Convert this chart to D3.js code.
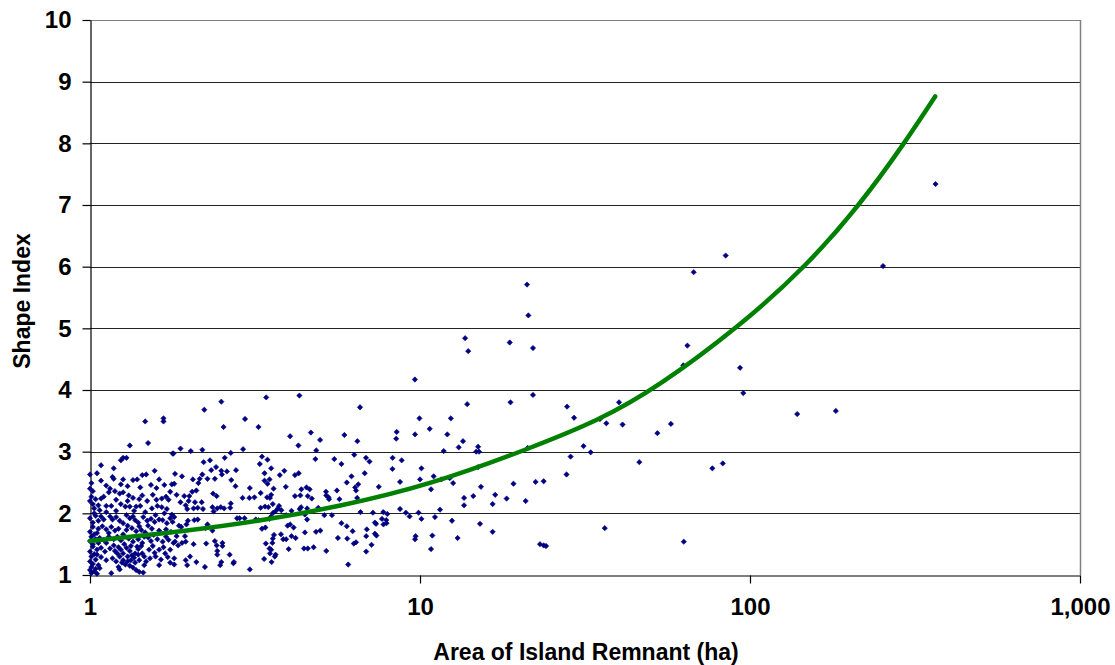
<!DOCTYPE html>
<html>
<head>
<meta charset="utf-8">
<script src="https://cdn.jsdelivr.net/npm/d3@7"></script>
<style>
  html, body { margin: 0; padding: 0; background: #fff; }
  svg { display: block; }
  .tick text { font-family: "Liberation Sans", Arial, sans-serif; font-weight: bold; font-size: 24px; fill: #000; }
  .title { font-family: "Liberation Sans", Arial, sans-serif; font-weight: bold; font-size: 23px; fill: #000; }
</style>
</head>
<body>
<svg id="chart" width="1115" height="665"></svg>
<script>
// Island remnants: [area (ha), shape index]
const islands = [
  [84.4,6.18],[67.5,5.91],[64.6,4.72],[62.8,4.40],[93.3,4.36],[95.4,3.95],[40.1,3.80],[35.1,3.53],[36.7,3.46],[41.1,3.44],
  [57.6,3.45],[52.4,3.30],[31.3,3.09],[32.9,2.99],[46.2,2.83],[76.9,2.73],[82.7,2.81],[139,3.61],[36.3,1.76],[63.0,1.54],
  [365,7.34],[253,6.01],[182,3.66],
  [21.1,5.71],[21.3,5.21],[13.7,4.84],[14.0,4.63],[18.7,4.77],[22.0,4.68],[9.65,4.17],[13.9,3.77],[18.8,3.80],[22.0,3.92],
  [27.9,3.73],[29.3,3.55],[9.96,3.54],[9.66,3.28],[10.7,3.37],[12.4,3.54],[12.1,3.28],[13.5,3.17],[13.1,3.07],[11.8,3.01],
  [15.0,3.08],[14.8,3.00],[15.1,3.00],[21.2,3.06],[28.6,2.92],[8.8,2.86],[10.1,2.73],[10.0,2.55],[8.7,2.51],[11.0,2.60],
  [11.6,2.55],[12.3,2.57],[12.6,2.49],[10.8,2.39],[15.0,2.75],[15.3,2.43],[19.2,2.48],[22.4,2.51],[23.7,2.52],[27.8,2.63],
  [13.6,2.25],[13.6,2.13],[14.5,2.28],[16.9,2.30],[16.6,2.15],[18.3,2.24],[20.9,2.20],[8.7,2.07],[9.06,2.01],[9.3,1.95],
  [9.9,2.01],[10.1,1.91],[11.1,1.94],[11.5,2.06],[12.5,1.88],[15.2,1.83],[16.6,1.70],[10.9,1.64],[9.7,1.63],[9.66,1.58],
  [13.0,1.60],[10.8,1.42],[23.1,1.50],[23.7,1.48],[24.1,1.47],
  [6.58,3.72],[5.9,3.27],[6.46,3.17],[8.5,3.32],[8.47,3.21],[6.32,2.95],[6.86,2.90],[7.03,2.84],[8.26,2.90],[8.25,2.72],
  [6.2,2.60],[6.8,2.65],[6.0,2.50],[6.5,2.47],[6.36,2.42],[6.4,2.37],[7.5,2.43],[6.45,2.25],[6.6,2.02],[7.2,2.01],
  [7.74,2.02],[7.96,1.99],[7.67,1.91],[7.9,1.89],[7.75,1.82],[7.92,1.84],[7.3,1.85],[7.36,1.83],[6.0,1.79],[6.25,1.71],
  [6.9,1.74],[7.3,1.67],[7.38,1.64],[6.02,1.59],[6.87,1.63],[6.4,1.53],[6.3,1.51],[7.13,1.49],[6.87,1.38],[6.06,1.17],
  [3.42,3.88],[4.31,3.91],[3.24,3.40],[4.04,3.25],[4.67,3.31],[4.98,3.19],[4.28,3.10],[4.85,3.02],[3.32,2.92],[3.45,2.87],
  [4.82,2.88],[5.5,2.88],[5.78,2.80],[3.27,2.80],[3.54,2.73],[3.38,2.65],[3.88,2.69],[3.76,2.62],[4.29,2.65],[4.18,2.62],
  [3.38,2.53],[3.5,2.55],[3.45,2.48],[3.92,2.43],[4.53,2.42],[4.63,2.39],[4.37,2.39],[3.6,2.40],[3.29,2.33],[3.54,2.30],
  [3.51,2.25],[3.44,2.26],[4.18,2.28],[4.34,2.29],[4.57,2.28],[4.7,2.24],[5.19,2.35],[5.2,2.29],[5.3,2.23],[5.28,2.26],
  [5.7,2.23],[5.6,2.37],[3.39,2.11],[3.58,2.15],[3.47,2.10],[3.29,2.09],[3.74,2.12],[3.71,2.08],[3.8,2.05],[3.66,2.04],
  [4.08,2.04],[4.36,2.10],[4.32,2.07],[4.55,2.08],[4.92,2.09],[3.59,2.01],[3.54,1.95],[3.5,1.91],[3.93,1.97],[5.13,1.97],
  [5.41,1.97],[4.48,1.98],[4.55,1.90],[4.04,1.82],[4.14,1.77],[3.97,1.80],[3.4,1.77],[3.32,1.75],[5.78,1.84],
  [4.84,1.70],[4.99,1.72],[3.79,1.66],[3.85,1.58],[3.93,1.58],[4.08,1.63],[4.2,1.60],[4.48,1.69],[5.64,1.60],[3.61,1.65],
  [3.58,1.59],[3.57,1.52],[3.41,1.51],[3.5,1.43],[3.54,1.41],[3.51,1.35],[3.65,1.33],[3.63,1.30],[4.0,1.42],[4.45,1.43],
  [4.57,1.43],[4.76,1.45],[5.2,1.39],[3.37,1.26],[3.55,1.21],
  [2.5,3.81],[2.22,3.68],[2.95,3.53],[2.54,3.40],[1.88,3.05],[2.02,3.01],[2.19,3.03],[1.78,2.97],[2.67,2.98],[2.91,3.04],
  [2.21,2.83],[2.31,2.86],[2.56,2.90],[2.41,2.75],[2.33,2.70],[2.5,2.69],[2.6,2.68],[2.77,2.70],[1.81,2.64],[1.9,2.60],
  [2.19,2.63],[2.27,2.56],[2.15,2.56],[2.39,2.56],[2.51,2.63],[2.68,2.54],[2.05,2.55],[2.13,2.49],[1.77,2.47],[3.05,2.41],
  [2.76,2.44],[2.36,2.32],[2.42,2.28],[1.83,2.30],[1.93,2.28],[2.0,2.28],[2.1,2.37],[2.04,2.35],[2.9,2.25],[3.04,2.25],
  [3.15,2.26],[1.88,2.18],[1.99,2.20],[1.95,2.13],[1.97,2.07],[2.06,2.08],[2.08,2.18],[2.12,2.09],[2.18,2.18],[2.2,2.07],
  [2.35,2.10],[2.37,2.03],[2.43,2.08],[2.49,2.10],[2.55,2.08],[2.66,2.09],[2.67,2.16],[2.79,1.92],[2.84,1.92],[2.94,1.92],
  [3.18,1.90],[3.24,1.89],[1.77,1.98],[1.8,1.94],[1.86,1.80],[1.89,1.78],[1.96,1.82],[1.98,1.88],[2.07,1.89],[2.12,1.90],
  [2.27,1.82],[2.24,1.76],[2.35,1.72],[1.83,1.63],[1.81,1.54],[1.85,1.48],[1.9,1.52],[1.94,1.63],[1.95,1.54],[2.06,1.50],
  [2.25,1.51],[2.39,1.55],[2.42,1.48],[2.52,1.52],[2.52,1.47],[2.43,1.39],[2.43,1.33],[2.65,1.33],[2.73,1.21],[2.72,1.19],
  [2.5,1.21],[2.48,1.16],[2.01,1.30],[2.1,1.21],[1.95,1.24],[1.97,1.16],[1.8,1.27],[1.8,1.17],[2.23,1.13],[3.05,1.09],
  [1.47,3.49],[1.67,3.54],[1.67,3.49],[1.5,3.14],[1.32,3.10],[1.79,2.97],[1.08,2.78],[1.24,2.86],[1.26,2.90],[1.29,2.90],
  [1.18,2.73],[1.48,2.63],[1.57,2.69],[1.0,2.63],[1.01,2.49],[1.08,2.53],[1.17,2.59],[1.18,2.56],[1.26,2.55],[1.35,2.54],
  [1.39,2.55],[1.3,2.44],[1.42,2.42],[1.53,2.46],[1.59,2.41],[1.68,2.46],[1.8,2.48],
  [1.01,2.27],[1.04,2.23],[1.08,2.24],[1.10,2.27],[1.14,2.34],[1.19,2.36],[1.23,2.32],[1.26,2.34],[1.31,2.29],[1.35,2.25],
  [1.41,2.23],[1.44,2.29],[1.49,2.20],[1.59,2.22],[1.65,2.24],[1.7,2.27],[1.73,2.22],
  [1.02,2.15],[1.06,2.13],[1.12,2.12],[1.16,2.12],[1.24,2.15],[1.28,2.11],[1.32,2.11],[1.38,2.11],[1.42,2.12],[1.54,2.08],
  [1.6,2.12],[1.65,2.10],[1.71,2.07],
  [1.03,2.00],[1.04,1.96],[1.08,1.95],[1.1,1.90],[1.15,1.95],[1.17,1.90],[1.2,1.94],[1.23,1.88],[1.26,1.84],[1.29,1.97],
  [1.32,1.92],[1.35,1.95],[1.37,1.89],[1.40,1.85],[1.45,1.94],[1.49,1.88],[1.53,1.91],[1.57,1.86],[1.62,1.90],[1.66,1.89],
  [1.71,1.84],[1.78,1.86],
  [1.02,1.78],[1.06,1.75],[1.09,1.79],[1.12,1.74],[1.16,1.78],[1.19,1.72],[1.22,1.75],[1.29,1.73],[1.34,1.76],[1.38,1.71],
  [1.43,1.73],[1.47,1.69],[1.54,1.75],[1.62,1.72],[1.70,1.74],[1.76,1.70],
  [1.01,1.62],[1.04,1.58],[1.07,1.60],[1.10,1.57],[1.14,1.62],[1.18,1.58],[1.21,1.62],[1.24,1.56],[1.31,1.59],[1.35,1.54],
  [1.4,1.58],[1.44,1.52],[1.5,1.61],[1.53,1.55],[1.6,1.58],[1.66,1.54],[1.73,1.57],[1.79,1.52],
  [1.02,1.46],[1.05,1.41],[1.08,1.44],[1.11,1.38],[1.15,1.43],[1.19,1.39],[1.21,1.35],[1.24,1.41],[1.26,1.35],[1.32,1.39],
  [1.37,1.35],[1.4,1.42],[1.44,1.35],[1.51,1.41],[1.57,1.36],[1.62,1.41],[1.69,1.35],[1.75,1.41],
  [1.01,1.30],[1.04,1.25],[1.08,1.29],[1.12,1.24],[1.17,1.27],[1.2,1.22],[1.23,1.30],[1.26,1.24],[1.3,1.22],[1.33,1.24],
  [1.37,1.20],[1.41,1.24],[1.46,1.16],[1.38,1.08],[1.41,1.05],[1.62,1.16],[1.45,1.04],
  [1.01,1.13],[1.03,1.06],[1.01,1.03],[1.07,1.11],[1.16,1.03],[1.23,1.09],
  [1.00,2.40],[1.02,2.36],[1.00,2.20],[1.03,2.08],[1.00,1.92],[1.02,1.85],[1.00,1.70],[1.03,1.66],[1.00,1.55],[1.02,1.50],
  [1.00,1.38],[1.03,1.34],[1.00,1.22],[1.02,1.18],[1.04,1.10],[1.05,1.02],[1.00,1.08],[1.06,1.16],[1.05,1.33],[1.06,1.52],
  [1.05,1.68],[1.06,1.88],[1.07,2.05],
  [1.18,1.48],[1.22,1.45],[1.27,1.50],[1.29,1.44],[1.33,1.47],[1.30,1.30],[1.34,1.32],[1.28,1.17],[1.32,1.15],[1.35,1.12],
  [1.25,1.20],[1.22,1.13],[1.36,1.28],[1.40,1.33],[1.39,1.46],[1.43,1.47],[1.46,1.30],[1.48,1.22],[1.52,1.27],[1.55,1.47],
  [1.58,1.30],[1.64,1.25],[1.67,1.45],[1.72,1.29],[1.75,1.20],[1.70,1.62],[1.56,1.65],[1.46,1.62],[1.12,1.52],[1.14,1.68],
  [1.26,1.66],[1.30,1.80],[1.41,1.79],[1.50,1.80],[1.58,1.97],[1.68,2.00],[1.75,1.92],[1.47,2.02],[1.36,2.04],[1.20,2.04],
  [1.12,2.02],[1.30,2.20],[1.20,2.22],[1.55,2.30],[1.75,2.35],[1.62,2.55],[1.44,2.62],[1.12,2.45],[1.24,2.47],[1.05,2.65],
  [1.15,2.40]
];

// Fitted trend line, sampled along its length: area (ha) and shape index
const trendArea  = [1, 2, 3.3, 5.7, 10.7, 21, 35, 52, 93, 149, 215, 292, 364];
const trendShape = [1.55, 1.72, 1.88, 2.11, 2.46, 3.03, 3.51, 4.03, 5.03, 6.02, 7.0, 7.98, 8.76];

const xTickValues = [1, 10, 100, 1000];
const xTickLabels = ["1", "10", "100", "1,000"];
const yTickValues = [1, 2, 3, 4, 5, 6, 7, 8, 9, 10];

const xTitle = "Area of Island Remnant (ha)";
const yTitle = "Shape Index";

const svg = d3.select("#chart");
const plotLeft = 90, plotRight = 1080, plotTop = 20, plotBottom = 575;

const x = d3.scaleLog().domain([1, 1000]).range([plotLeft, plotRight]);
const y = d3.scaleLinear().domain([1, 10]).range([plotBottom, plotTop]);

// horizontal gridlines
svg.append("g")
  .selectAll("line")
  .data(yTickValues.slice(1))
  .join("line")
  .attr("x1", plotLeft).attr("x2", plotRight)
  .attr("y1", d => Math.round(y(d)) + 0.5)
  .attr("y2", d => Math.round(y(d)) + 0.5)
  .attr("stroke", d => d === 10 ? "#808080" : "#222")
  .attr("stroke-width", 1);

// plot area right border
svg.append("line")
  .attr("x1", plotRight + 0.5).attr("x2", plotRight + 0.5)
  .attr("y1", plotTop).attr("y2", plotBottom)
  .attr("stroke", "#808080").attr("stroke-width", 1.5);

// axes
const yAxis = d3.axisLeft(y)
  .tickValues(yTickValues)
  .tickFormat(d3.format("d"))
  .tickSize(8).tickSizeOuter(0).tickPadding(11);
const gy = svg.append("g").attr("transform", `translate(${plotLeft + 0.5},0)`).call(yAxis);

const xAxis = d3.axisBottom(x)
  .tickValues(xTickValues)
  .tickFormat((d, i) => xTickLabels[i])
  .tickSize(8).tickSizeOuter(0).tickPadding(14);
const gx = svg.append("g").attr("transform", `translate(0,${plotBottom + 0.5})`).call(xAxis);

[gx, gy].forEach(g => {
  g.select(".domain").attr("stroke", "#000").attr("stroke-width", 1.2);
  g.selectAll(".tick line").attr("stroke", "#000").attr("stroke-width", 1.2);
});

// data points
const marker = d3.symbol().type(d3.symbolSquare).size(14);
svg.append("g")
  .selectAll("path")
  .data(islands)
  .join("path")
  .attr("d", marker)
  .attr("transform", d => `translate(${x(d[0])},${y(d[1])}) rotate(45)`)
  .attr("fill", "#000080")
  .attr("stroke", "#000080")
  .attr("stroke-width", 0.6);

// trend line
const trend = trendArea.map((a, i) => [a, trendShape[i]]);
svg.append("path")
  .datum(trend)
  .attr("d", d3.line().x(d => x(d[0])).y(d => y(d[1])).curve(d3.curveBasis))
  .attr("fill", "none")
  .attr("stroke", "#008000")
  .attr("stroke-width", 4.5)
  .attr("stroke-linecap", "round");

// axis titles
svg.append("text")
  .attr("class", "title")
  .attr("x", 586).attr("y", 660)
  .attr("text-anchor", "middle")
  .text(xTitle);

svg.append("text")
  .attr("class", "title")
  .attr("transform", "translate(30,301) rotate(-90)")
  .attr("text-anchor", "middle")
  .text(yTitle);
</script>
</body>
</html>
